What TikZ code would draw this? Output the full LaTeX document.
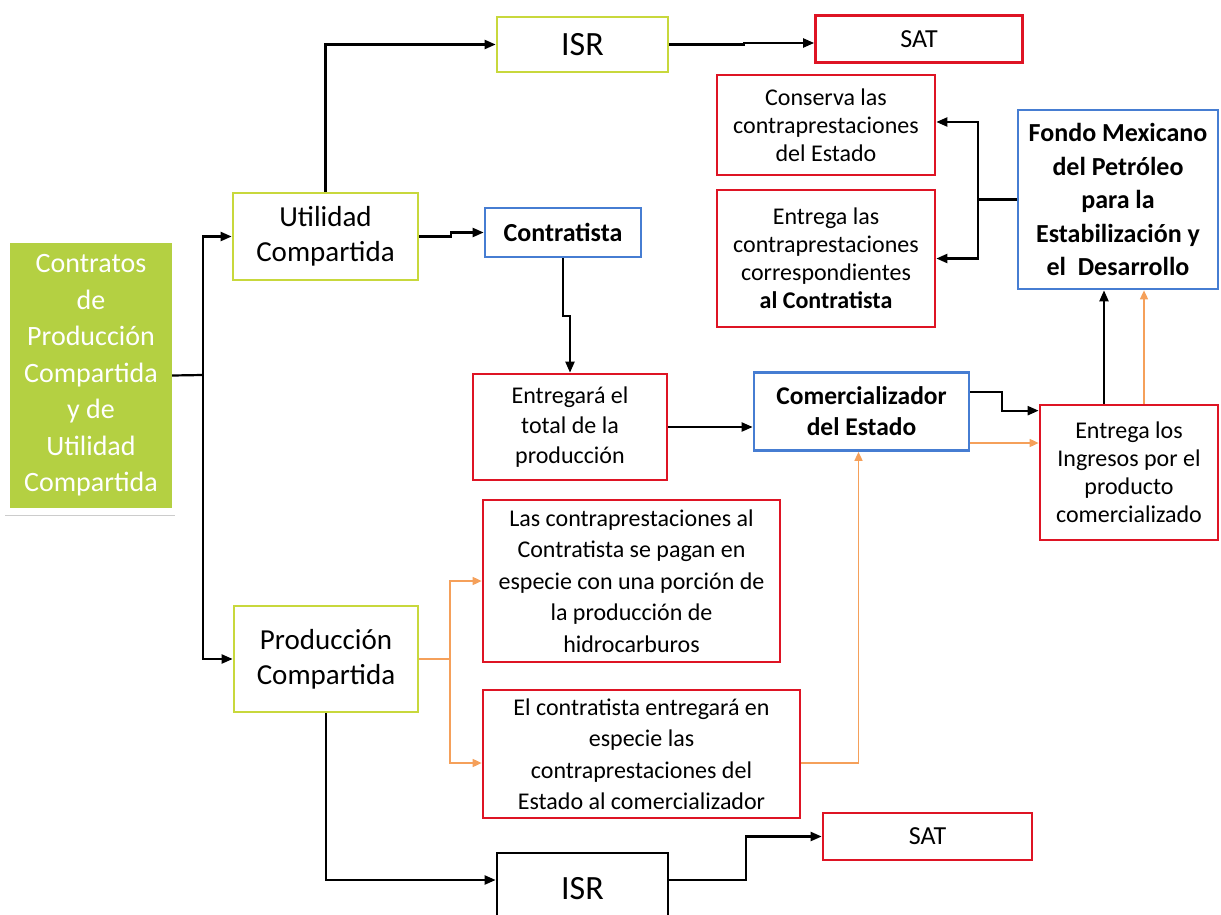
\documentclass[tikz,border=0pt]{standalone}
\usepackage{fontspec}
\setmainfont{Carlito}
\usetikzlibrary{arrows.meta,calc}
\definecolor{gbord}{RGB}{200,216,60}
\definecolor{gfill}{RGB}{180,208,66}
\definecolor{rbord}{RGB}{222,20,36}
\definecolor{bbord}{RGB}{70,125,210}
\definecolor{orng}{RGB}{245,160,90}
\tikzset{
  x=1pt,y=-1pt,
  box/.style={draw,line width=2.7pt,align=center,inner sep=0pt,text=black},
  gbox/.style={box,draw=gbord},
  rbox/.style={box,draw=rbord},
  bbox/.style={box,draw=bbord},
  kbox/.style={box,draw=black},
  ln/.style={line width=2.2pt,black},
  arr/.style={ln,-{Triangle[length=11pt,width=9pt]}},
  oarr/.style={line width=1.6pt,orng,-{Triangle[length=9pt,width=8pt]}},
  oln/.style={line width=1.6pt,orng},
  lvl/.style={font=\fontsize{29}{35}\selectfont},
  med/.style={font=\fontsize{24}{28}\selectfont},
  isrf/.style={font=\fontsize{34}{38}\selectfont},
  satf/.style={font=\fontsize{26}{30}\selectfont},
}
\begin{document}
\begin{tikzpicture}
\useasboundingbox (0,0) rectangle (1221,915);
% left big box
\node[fill=gfill,draw=none,minimum width=162pt,minimum height=265pt,align=center,text=white,inner sep=0pt,font=\fontsize{28}{36.5}\selectfont] (main) at (91,375.5) {Contratos\\de\\Producción\\Compartida\\y de\\Utilidad\\Compartida};
\draw[gray!40,line width=0.6pt] (5,515) -- (175,515);
% level 1
\node[gbox,lvl,minimum width=185pt,minimum height=87pt] (util) at (325.5,236.5) {Utilidad\\Compartida};
\node[gbox,lvl,minimum width=184pt,minimum height=106pt] (prod) at (326,659) {Producción\\Compartida};
% top row
\node[gbox,isrf,minimum width=171pt,minimum height=55pt] (isra) at (582.5,44.5) {ISR};
\node[rbox,satf,minimum width=207pt,minimum height=47pt] (sata) at (919,39) {SAT};
\node[rbox,med,minimum width=218pt,minimum height=100pt] (cons) at (826,125) {Conserva las\\contraprestaciones\\del Estado};
\node[rbox,med,minimum width=218pt,minimum height=137pt] (entr) at (826,258.5) {Entrega las\\contraprestaciones\\correspondientes\\\textbf{al Contratista}};
\node[bbox,font=\fontsize{26}{33.5}\selectfont\bfseries,minimum width=200pt,minimum height=179pt] (fondo) at (1118,199.5) {Fondo Mexicano\\del Petróleo\\para la\\Estabilización y\\el~ Desarrollo};
\node[bbox,font=\fontsize{26}{30}\selectfont\bfseries,minimum width=156pt,minimum height=49pt] (contr) at (563,232.5) {Contratista};
\node[rbox,font=\fontsize{24}{30}\selectfont,minimum width=194pt,minimum height=106pt] (entreg) at (570,427) {Entregará el\\total de la\\producción};
\node[bbox,font=\fontsize{25.5}{31}\selectfont\bfseries,minimum width=215pt,minimum height=78pt] (comer) at (861.5,411.5) {Comercializador\\del Estado};
\node[rbox,med,minimum width=178pt,minimum height=135pt] (ingr) at (1129,472.5) {Entrega los\\Ingresos por el\\producto\\comercializado};
\node[rbox,font=\fontsize{24}{31.5}\selectfont,minimum width=297pt,minimum height=162pt] (las) at (631.5,581) {Las contraprestaciones al\\Contratista se pagan en\\especie con una porción de\\la producción de\\hidrocarburos};
\node[rbox,font=\fontsize{24}{31.5}\selectfont,minimum width=317pt,minimum height=128pt] (elc) at (641.5,754) {El contratista entregará en\\especie las\\contraprestaciones del\\Estado al comercializador};
\node[kbox,isrf,minimum width=171pt,minimum height=72pt] (isrb) at (582.5,889) {ISR};
\node[rbox,satf,minimum width=209pt,minimum height=47pt] (satb) at (927.5,836.5) {SAT};
% connectors
\coordinate (j1) at (203,375);
\draw[ln] (main.east) -- (j1);
\draw[arr] (j1) |- (util.west);
\draw[arr] (j1) |- (prod.west);
\draw[arr] (util.north) |- (isra.west);
\draw[arr] (isra.east) -- ++(75,0) |- ([yshift=-4pt]sata.west);
\draw[arr] (util.east) -- ++(32,0) |- (contr.west);
\draw[arr] (contr.south) -- ++(0,58) -| (entreg.north);
\draw[arr] (entreg.east) -- (entreg.east -| comer.west);
\coordinate (j2) at (978,199.5);
\draw[ln] (fondo.west) -- (j2);
\draw[arr] (j2) |- ([yshift=3pt]cons.east);
\draw[arr] (j2) |- (entr.east);
\draw[arr] ([yshift=19.5pt]comer.east) -- ++(32,0) |- ([yshift=-7pt]ingr.north west);
\draw[oarr] ([yshift=-31.5pt]comer.east) -- ([yshift=-31.5pt]comer.east -| ingr.west);
\draw[arr] ([xshift=-25pt]ingr.north) -- ([xshift=-25pt]ingr.north |- fondo.south);
\draw[oarr] ([xshift=15pt]ingr.north) -- ([xshift=15pt]ingr.north |- fondo.south);
\coordinate (j3) at (450,659);
\draw[oln] (prod.east) -- (j3);
\draw[oarr] (j3) |- (las.west);
\draw[oarr] (j3) |- ([yshift=-9pt]elc.west);
\draw[oarr] ([yshift=-9pt]elc.east) -| ([xshift=-3pt]comer.south);
\draw[arr] (prod.south) |- ([yshift=9pt]isrb.west);
\draw[arr] ([yshift=9pt]isrb.east) -- ++(77,0) |- (satb.west);
\end{tikzpicture}
\end{document}
